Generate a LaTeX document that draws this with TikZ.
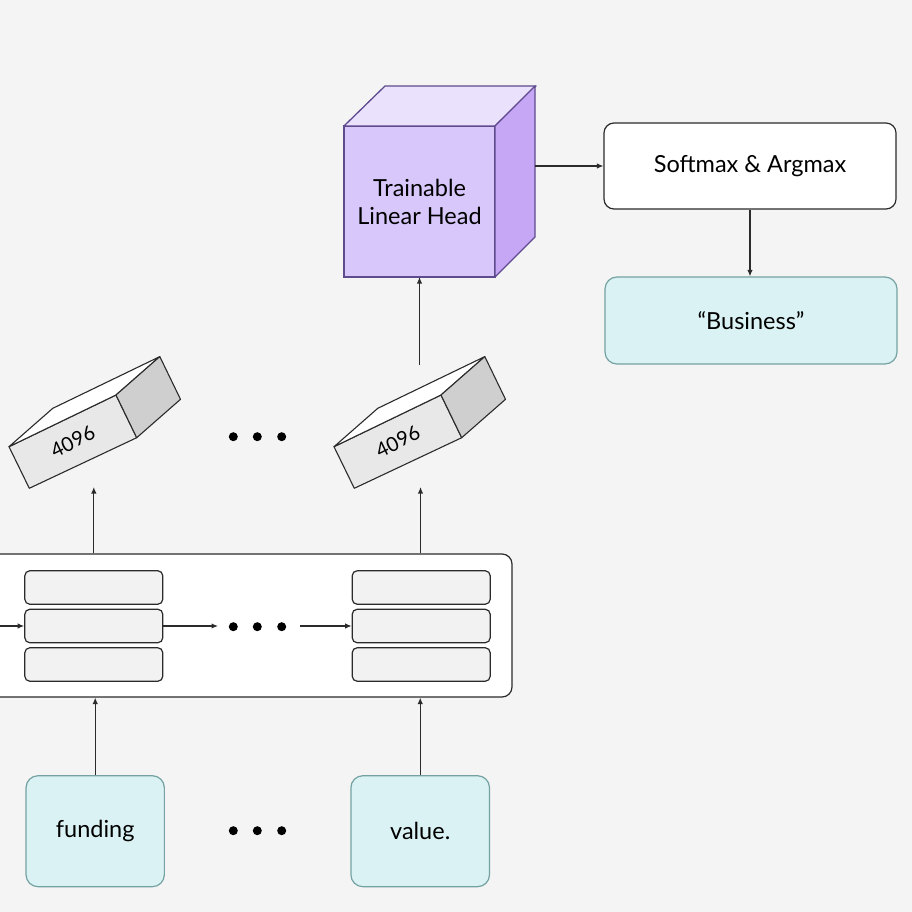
\documentclass[tikz,border=0pt]{standalone}
\usepackage{fontspec}
\setmainfont{Lato}
\usetikzlibrary{arrows.meta}
\definecolor{canvas}{HTML}{F4F4F4}
\definecolor{ink}{HTML}{2B2B2B}
\definecolor{tokenfill}{HTML}{DAF2F3}
\definecolor{tokenline}{HTML}{74A2A2}
\definecolor{headfront}{HTML}{D8C7FA}
\definecolor{headtop}{HTML}{EAE1FD}
\definecolor{headside}{HTML}{C5A7F6}
\definecolor{headline}{HTML}{5E4A8C}
\definecolor{vecfront}{HTML}{E8E8E8}
\definecolor{vecside}{HTML}{CFCFCF}
\definecolor{cellfill}{HTML}{F2F2F2}
\tikzset{
	conn/.style={draw=ink, line width=1.2pt, -{Latex[length=6.5pt,width=5.5pt]}},
	roundbox/.style={draw=ink, line width=1.2pt, rounded corners=10pt, inner sep=0pt, font=\fontsize{23.5}{28}\selectfont},
	tokenbox/.style={draw=tokenline, fill=tokenfill, line width=1.2pt, rounded corners=12pt, inner sep=0pt, font=\fontsize{23.5}{28}\selectfont},
	cell/.style={draw=ink, fill=cellfill, line width=1.2pt, rounded corners=5pt, minimum width=138pt, minimum height=33.5pt, inner sep=0pt},
	vecface/.style={draw=ink, line width=1.1pt, line join=round},
	dot/.style={fill=black, circle, inner sep=0pt, minimum size=9pt}
}
\begin{document}
\begin{tikzpicture}[x=1pt,y=-1pt]
	\useasboundingbox[fill=canvas] (0,0) rectangle (912,912);
	\clip (0,0) rectangle (912,912);

	% output side
	\node [roundbox, fill=white, minimum width=292pt, minimum height=86pt] (soft) at (750,166) {Softmax \& Argmax};
	\node [tokenbox, minimum width=292pt, minimum height=87pt] (label) at (751,320.5) {\textquotedblleft Business\textquotedblright};
	\draw [conn] (soft.south) -- (soft.south |- label.north);

	% linear head cube
	\node [draw=headline, fill=headfront, line width=1.3pt, outer sep=0pt, inner sep=0pt, minimum width=151pt, minimum height=151pt, align=center, font=\fontsize{23.5}{28}\selectfont] (head) at (419.5,201.5) {Trainable\\Linear Head};
	\draw [draw=headline, fill=headtop, line width=1.3pt, line join=round] (head.north west) -- ++(41,-40) -- ++(151,0) -- (head.north east) -- cycle;
	\draw [draw=headline, fill=headside, line width=1.3pt, line join=round] (head.north east) -- ++(40,-40) -- ++(0,151) -- (head.south east) -- cycle;
	\coordinate (headout) at (535,166);
	\draw [conn] (headout) -- (soft.west);

	% pooled vectors
	\draw [vecface, fill=vecfront] (9,446.7) -- (116,395) -- (136.7,437.7) -- (29.3,488.3) -- cycle;
	\draw [vecface, fill=white] (9,446.7) -- (52.8,408.3) -- (159.8,356.6) -- (116,395) -- cycle;
	\draw [vecface, fill=vecside] (116,395) -- (159.8,356.6) -- (180.5,399.3) -- (136.7,437.7) -- cycle;
	\node [rotate=25.8, font=\fontsize{20}{22}\selectfont] (vecA) at (72.8,441.5) {4096};
	\coordinate (vecAin) at (93.8,487);

	\draw [vecface, fill=vecfront] (334,446.7) -- (441,395) -- (461.7,437.7) -- (354.3,488.3) -- cycle;
	\draw [vecface, fill=white] (334,446.7) -- (377.8,408.3) -- (484.8,356.6) -- (441,395) -- cycle;
	\draw [vecface, fill=vecside] (441,395) -- (484.8,356.6) -- (505.5,399.3) -- (461.7,437.7) -- cycle;
	\node [rotate=25.8, font=\fontsize{20}{22}\selectfont] (vecB) at (397.8,441.5) {4096};
	\coordinate (vecBin) at (420.5,487);
	\coordinate (vecBout) at (head.south |- 0,365);
	\draw [conn] (vecBout) -- (head.south);

	\node [dot] (dotA1) at (233.3,436.7) {};
	\node [dot] (dotA2) at (257.3,436.7) {};
	\node [dot] (dotA3) at (281.7,436.7) {};

	% encoder
	\node [roundbox, fill=white, minimum width=532pt, minimum height=143pt] (enc) at (246,625.5) {};
	\node [cell] (l1) at (93.8,587.5) {};
	\node [cell] (l2) at (93.8,626) {};
	\node [cell] (l3) at (93.8,664.5) {};
	\node [cell] (r1) at (421.2,587.5) {};
	\node [cell] (r2) at (421.2,626) {};
	\node [cell] (r3) at (421.2,664.5) {};
	\coordinate (encin) at (-5,626);
	\coordinate (gapin) at (218,626);
	\coordinate (gapout) at (300,626);
	\draw [conn] (encin) -- (l2.west);
	\draw [conn] (l2.east) -- (gapin);
	\draw [conn] (gapout) -- (r2.west);
	\node [dot] (dotB1) at (233.3,626.7) {};
	\node [dot] (dotB2) at (257.3,626.7) {};
	\node [dot] (dotB3) at (281.7,626.7) {};
	\draw [conn] (l1 |- enc.north) -- (vecAin);
	\draw [conn] (vecBin |- enc.north) -- (vecBin);

	% input tokens
	\node [tokenbox, minimum width=138.3pt, minimum height=111pt] (tokA) at (95.2,831.2) {funding};
	\node [tokenbox, minimum width=138.6pt, minimum height=111pt] (tokB) at (420.2,831.2) {value.};
	\draw [conn] (tokA.north) -- (tokA.north |- enc.south);
	\draw [conn] (tokB.north) -- (tokB.north |- enc.south);
	\node [dot] (dotC1) at (233.3,830.7) {};
	\node [dot] (dotC2) at (257.3,830.7) {};
	\node [dot] (dotC3) at (281.7,830.7) {};
\end{tikzpicture}
\end{document}
